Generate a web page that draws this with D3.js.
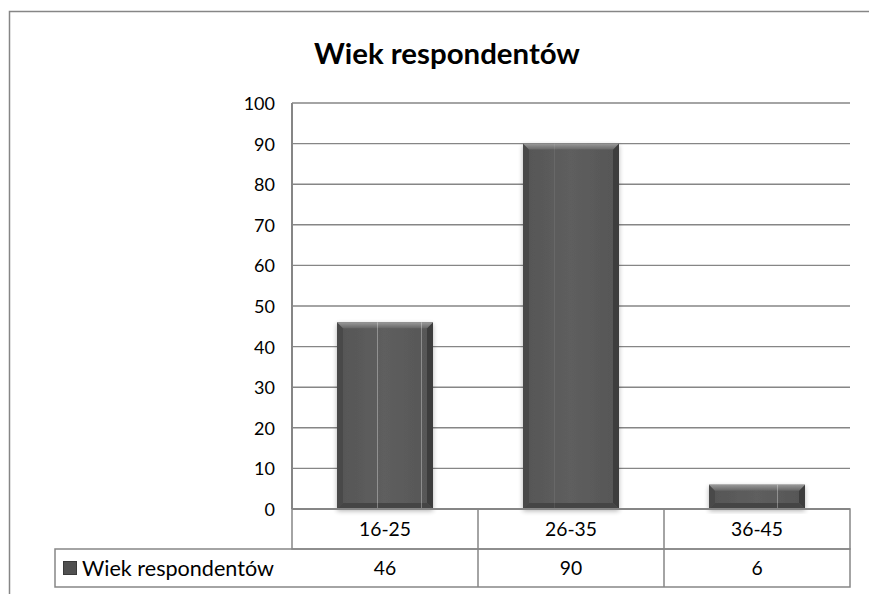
<!DOCTYPE html>
<html>
<head>
<meta charset="utf-8">
<script src="https://cdn.jsdelivr.net/npm/d3@7/dist/d3.min.js"></script>
<style>
  html, body { margin: 0; padding: 0; background: #fff; }
  svg { display: block; font-family: Lato, "Open Sans", sans-serif; }
</style>
</head>
<body>
<svg id="chart" width="869" height="594"></svg>
<script>
// Age groups and number of respondents in each
const categories = ["16-25", "26-35", "36-45"];
const values = [46, 90, 6];
const seriesName = "Wiek respondentów";
const chartTitle = "Wiek respondentów";
const yTicks = [0, 10, 20, 30, 40, 50, 60, 70, 80, 90, 100];

const W = 869, H = 594;
const plot = { left: 292, right: 850, top: 103, bottom: 509 };
const table = { left: 55, rowH: 40 };
const gridColor = "#868686";

const svg = d3.select("#chart");

// size a text selection so that the first node spans the given width
function fitWidth(sel, width, base) {
  sel.attr("font-size", base);
  const w = sel.node().getComputedTextLength();
  const size = w > 0 ? base * width / w : base;
  sel.attr("font-size", size);
  return size;
}

// outer chart frame (only top and left edges fall inside the page)
svg.append("path")
  .attr("d", `M9.5,${H} V11.5 H${W}`)
  .attr("fill", "none").attr("stroke", gridColor).attr("stroke-width", 1.5);

// title
const title = svg.append("text")
  .attr("x", 447).attr("y", 64)
  .attr("text-anchor", "middle")
  .attr("font-weight", "bold")
  .attr("fill", "#000")
  .text(chartTitle);
fitWidth(title, 266, 24);

const x = d3.scaleBand()
  .domain(categories)
  .range([plot.left, plot.right])
  .paddingInner(0.484)
  .paddingOuter(0.242);

const y = d3.scaleLinear()
  .domain([0, 100])
  .range([plot.bottom, plot.top]);

// horizontal gridlines
svg.append("g")
  .selectAll("line")
  .data(yTicks.filter(t => t > 0))
  .join("line")
  .attr("x1", plot.left).attr("x2", plot.right)
  .attr("y1", d => y(d)).attr("y2", d => y(d))
  .attr("stroke", gridColor).attr("stroke-width", 1.4);

// y axis labels
const yAxis = d3.axisLeft(y).tickValues(yTicks).tickSize(0).tickPadding(17);
const gy = svg.append("g").attr("transform", `translate(${plot.left},0)`).call(yAxis);
gy.select(".domain").remove();
gy.selectAll("text")
  .attr("font-family", "Lato, sans-serif")
  .attr("font-size", 18)
  .attr("dy", "0.36em")
  .attr("fill", "#000");

// bar styling: soft shadow and bevelled faces
const defs = svg.append("defs");
const sh = defs.append("filter").attr("id", "barShadow")
  .attr("x", "-20%").attr("y", "-20%").attr("width", "140%").attr("height", "140%");
sh.append("feGaussianBlur").attr("in", "SourceAlpha").attr("stdDeviation", 2.5).attr("result", "b");
sh.append("feOffset").attr("in", "b").attr("dx", 0).attr("dy", 2).attr("result", "o");
sh.append("feComponentTransfer").attr("in", "o").attr("result", "s")
  .append("feFuncA").attr("type", "linear").attr("slope", 0.3);
const shm = sh.append("feMerge");
shm.append("feMergeNode").attr("in", "s");
shm.append("feMergeNode").attr("in", "SourceGraphic");

const bodyGrad = defs.append("linearGradient").attr("id", "bodyGrad")
  .attr("x1", 0).attr("y1", 0).attr("x2", 1).attr("y2", 0);
bodyGrad.append("stop").attr("offset", "0%").attr("stop-color", "#565656");
bodyGrad.append("stop").attr("offset", "50%").attr("stop-color", "#5e5e5e");
bodyGrad.append("stop").attr("offset", "100%").attr("stop-color", "#565656");

const topGrad = defs.append("linearGradient").attr("id", "topGrad")
  .attr("x1", 0).attr("y1", 0).attr("x2", 0).attr("y2", 1);
topGrad.append("stop").attr("offset", "0%").attr("stop-color", "#9a9a9a");
topGrad.append("stop").attr("offset", "100%").attr("stop-color", "#666");

const bev = 6;
const bars = svg.append("g").selectAll("g.bar")
  .data(categories.map((c, i) => ({ c, v: values[i] })))
  .join("g").attr("class", "bar")
  .attr("filter", "url(#barShadow)");

bars.each(function(d) {
  const g = d3.select(this);
  const x0 = x(d.c), x1 = x0 + x.bandwidth();
  const y0 = y(d.v), y1 = y(0);
  const b = Math.min(bev, (y1 - y0) / 2);
  g.append("rect").attr("x", x0).attr("y", y0)
    .attr("width", x1 - x0).attr("height", y1 - y0)
    .attr("fill", "url(#bodyGrad)");
  // left face
  g.append("polygon")
    .attr("points", [[x0, y0], [x0 + b, y0 + b], [x0 + b, y1 - b], [x0, y1]].join(" "))
    .attr("fill", "#4a4a4a");
  // right face
  g.append("polygon")
    .attr("points", [[x1, y0], [x1 - b, y0 + b], [x1 - b, y1 - b], [x1, y1]].join(" "))
    .attr("fill", "#3e3e3e");
  // bottom face
  g.append("polygon")
    .attr("points", [[x0, y1], [x0 + b, y1 - b], [x1 - b, y1 - b], [x1, y1]].join(" "))
    .attr("fill", "#444");
  // top face
  g.append("polygon")
    .attr("points", [[x0, y0], [x1, y0], [x1 - b, y0 + b], [x0 + b, y0 + b]].join(" "))
    .attr("fill", "url(#topGrad)");
});

// thin light streaks across the bars
const streaks = [[377, 0.32], [421, 0.32], [554, 0.08], [777, 0.32]];
const clip = defs.append("clipPath").attr("id", "barClip");
categories.forEach((c, i) => {
  clip.append("rect").attr("x", x(c)).attr("y", y(values[i]))
    .attr("width", x.bandwidth()).attr("height", y(0) - y(values[i]));
});
svg.append("g").attr("clip-path", "url(#barClip)")
  .selectAll("line").data(streaks).join("line")
  .attr("x1", d => d[0] + 0.5).attr("x2", d => d[0] + 0.5)
  .attr("y1", plot.top).attr("y2", plot.bottom)
  .attr("stroke", "#fff").attr("stroke-opacity", d => d[1]).attr("stroke-width", 1);

// y axis line
svg.append("line")
  .attr("x1", plot.left).attr("x2", plot.left)
  .attr("y1", plot.top).attr("y2", plot.bottom)
  .attr("stroke", gridColor).attr("stroke-width", 2);

// data table below the plot
const row1 = plot.bottom, row2 = plot.bottom + table.rowH, row3 = plot.bottom + 2 * table.rowH - 2;
const tg = svg.append("g").attr("fill", "none").attr("stroke", gridColor).attr("stroke-width", 1.5);
// category row
tg.append("rect").attr("x", plot.left).attr("y", row1)
  .attr("width", plot.right - plot.left).attr("height", row2 - row1);
// series row
tg.append("rect").attr("x", table.left).attr("y", row2)
  .attr("width", plot.right - table.left).attr("height", row3 - row2);
// column dividers
const bounds = categories.map(c => x(c) - x.step() * x.paddingInner() / 2);
tg.selectAll("line.col").data(bounds.slice(1)).join("line").attr("class", "col")
  .attr("x1", d => d).attr("x2", d => d)
  .attr("y1", row1).attr("y2", row3);

// baseline (drawn over the table top edge)
svg.append("line")
  .attr("x1", plot.left).attr("x2", plot.right)
  .attr("y1", plot.bottom).attr("y2", plot.bottom)
  .attr("stroke", gridColor).attr("stroke-width", 2.2);

const cx = c => x(c) + x.bandwidth() / 2;
const catText = svg.append("g").selectAll("text").data(categories).join("text")
  .attr("x", cx).attr("y", (row1 + row2) / 2)
  .attr("dy", "0.36em").attr("text-anchor", "middle")
  .attr("fill", "#000")
  .text(d => d);
const catSize = fitWidth(catText.filter((d, i) => i === 0), 52, 17);
catText.attr("font-size", catSize);

svg.append("g").selectAll("text").data(values).join("text")
  .attr("x", (d, i) => cx(categories[i])).attr("y", (row2 + row3) / 2)
  .attr("dy", "0.36em").attr("text-anchor", "middle")
  .attr("font-size", catSize).attr("fill", "#000")
  .text(d => d);

// legend key inside the series row
svg.append("rect")
  .attr("x", 63.5).attr("y", (row2 + row3) / 2 - 6.5)
  .attr("width", 13).attr("height", 13)
  .attr("fill", "#505050").attr("stroke", "#3a3a3a").attr("stroke-width", 1);
const legendText = svg.append("text")
  .attr("x", 82).attr("y", (row2 + row3) / 2)
  .attr("dy", "0.36em")
  .attr("fill", "#000")
  .text(seriesName);
fitWidth(legendText, 192, 17);
</script>
</body>
</html>
